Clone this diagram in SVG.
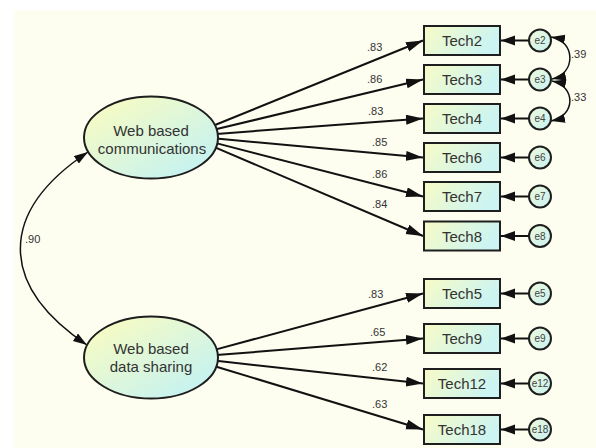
<svg xmlns="http://www.w3.org/2000/svg" width="596" height="448" viewBox="0 0 596 448">
<defs>
<linearGradient id="gb" x1="0" y1="0" x2="1" y2="0.3">
<stop offset="0" stop-color="#f8fbc6"/>
<stop offset="1" stop-color="#cbf4f2"/>
</linearGradient>
<linearGradient id="ge" x1="0.1" y1="0.1" x2="0.9" y2="0.9">
<stop offset="0" stop-color="#f7fbc3"/>
<stop offset="1" stop-color="#c4f2f2"/>
</linearGradient>
<linearGradient id="gc" x1="0" y1="0" x2="1" y2="1">
<stop offset="0" stop-color="#eefadc"/>
<stop offset="1" stop-color="#c8f1f0"/>
</linearGradient>
<marker id="ah" markerUnits="userSpaceOnUse" markerWidth="18" markerHeight="11" refX="17" refY="5" orient="auto">
<path d="M0,0 L17,5 L0,10 z" fill="#111"/>
</marker>
<marker id="as" markerUnits="userSpaceOnUse" markerWidth="15" markerHeight="11" refX="14" refY="5" orient="auto">
<path d="M0,0 L14,5 L0,10 z" fill="#111"/>
</marker>
<marker id="ac" markerUnits="userSpaceOnUse" markerWidth="15" markerHeight="10" refX="14" refY="4.5" orient="auto-start-reverse">
<path d="M0,0 L14,4.5 L0,9 z" fill="#111"/>
</marker>
</defs>
<style>
.box{fill:url(#gb);stroke:#1e1e1e;stroke-width:2}
.lat{fill:url(#ge);stroke:#1e1e1e;stroke-width:2}
.err{fill:url(#gc);stroke:#1e1e1e;stroke-width:2}
.t{font-family:"Liberation Sans",Arial,sans-serif;font-size:15px;fill:#333;text-anchor:middle}
.te{font-family:"Liberation Sans",Arial,sans-serif;font-size:10px;fill:#444;text-anchor:middle}
.lb{font-family:"Liberation Sans",Arial,sans-serif;font-size:11px;fill:#333}
.ld{stroke:#111;stroke-width:2;fill:none;marker-end:url(#ah)}
.ea{stroke:#111;stroke-width:2;fill:none;marker-end:url(#as)}
.cv{stroke:#111;stroke-width:1.5;fill:none;marker-start:url(#ac);marker-end:url(#ac)}
</style>
<rect x="14" y="10" width="582" height="438" fill="#fdfdf0"/>
<g id="connectors">
<path class="cv" d="M88,152 C-2,212 -2,285 87,345"/>
<line class="ld" x1="214.4" y1="125.3" x2="423" y2="40.5"/>
<line class="ld" x1="215.8" y1="129.3" x2="423" y2="79.5"/>
<line class="ld" x1="216.5" y1="133.9" x2="423" y2="118.5"/>
<line class="ld" x1="216.2" y1="138.6" x2="423" y2="157.5"/>
<line class="ld" x1="215.1" y1="142.9" x2="423" y2="196.5"/>
<line class="ld" x1="213.3" y1="146.7" x2="423" y2="236"/>
<line class="ld" x1="215.4" y1="349.6" x2="423" y2="293.5"/>
<line class="ld" x1="216.4" y1="355.1" x2="423" y2="338.5"/>
<line class="ld" x1="216.2" y1="360.8" x2="423" y2="383.5"/>
<line class="ld" x1="214.8" y1="366.2" x2="423" y2="429.5"/>
<line class="ea" x1="529" y1="40.5" x2="501" y2="40.5"/>
<line class="ea" x1="529" y1="79.5" x2="501" y2="79.5"/>
<line class="ea" x1="529" y1="118.5" x2="501" y2="118.5"/>
<line class="ea" x1="529" y1="157.5" x2="501" y2="157.5"/>
<line class="ea" x1="529" y1="196.5" x2="501" y2="196.5"/>
<line class="ea" x1="529" y1="236" x2="501" y2="236"/>
<line class="ea" x1="529" y1="293.5" x2="501" y2="293.5"/>
<line class="ea" x1="529" y1="338.5" x2="501" y2="338.5"/>
<line class="ea" x1="529" y1="383.5" x2="501" y2="383.5"/>
<line class="ea" x1="529" y1="429.5" x2="501" y2="429.5"/>
<path class="cv" d="M551,37 C576,41 576,74 552,79"/>
<path class="cv" d="M552,81 C576,86 576,116 551,121"/>
<text class="lb" x="367" y="51">.83</text>
<text class="lb" x="367" y="83">.86</text>
<text class="lb" x="368" y="115">.83</text>
<text class="lb" x="372" y="146">.85</text>
<text class="lb" x="372" y="178">.86</text>
<text class="lb" x="372" y="208">.84</text>
<text class="lb" x="368" y="298">.83</text>
<text class="lb" x="370" y="336">.65</text>
<text class="lb" x="372" y="371">.62</text>
<text class="lb" x="372" y="408">.63</text>
<text class="lb" x="25" y="243">.90</text>
<text class="lb" x="571" y="58">.39</text>
<text class="lb" x="571" y="101">.33</text>
</g>
<g id="f1"><ellipse class="lat" cx="151" cy="137.5" rx="67" ry="41"/><text class="t" x="151" y="136">Web based</text><text class="t" x="152" y="153.5">communications</text></g>
<g id="f2"><ellipse class="lat" cx="151" cy="357.5" rx="67" ry="41"/><text class="t" x="151" y="354">Web based</text><text class="t" x="151" y="372">data sharing</text></g>
<g id="tech2"><rect class="box" x="424" y="26" width="76" height="29"/><text class="t" x="462" y="46">Tech2</text></g>
<g id="tech3"><rect class="box" x="424" y="65" width="76" height="29"/><text class="t" x="462" y="85">Tech3</text></g>
<g id="tech4"><rect class="box" x="424" y="104" width="76" height="29"/><text class="t" x="462" y="124">Tech4</text></g>
<g id="tech6"><rect class="box" x="424" y="143" width="76" height="29"/><text class="t" x="462" y="163">Tech6</text></g>
<g id="tech7"><rect class="box" x="424" y="182" width="76" height="29"/><text class="t" x="462" y="202">Tech7</text></g>
<g id="tech8"><rect class="box" x="424" y="221.5" width="76" height="29"/><text class="t" x="462" y="241.5">Tech8</text></g>
<g id="tech5"><rect class="box" x="424" y="279" width="76" height="29"/><text class="t" x="462" y="299">Tech5</text></g>
<g id="tech9"><rect class="box" x="424" y="324" width="76" height="29"/><text class="t" x="462" y="344">Tech9</text></g>
<g id="tech12"><rect class="box" x="424" y="369" width="76" height="29"/><text class="t" x="462" y="389">Tech12</text></g>
<g id="tech18"><rect class="box" x="424" y="415" width="76" height="29"/><text class="t" x="462" y="435">Tech18</text></g>
<g id="e2"><circle class="err" cx="540" cy="40.5" r="11"/><text class="te" x="540" y="44">e2</text></g>
<g id="e3"><circle class="err" cx="540" cy="79.5" r="11"/><text class="te" x="540" y="83">e3</text></g>
<g id="e4"><circle class="err" cx="540" cy="118.5" r="11"/><text class="te" x="540" y="122">e4</text></g>
<g id="e6"><circle class="err" cx="540" cy="157.5" r="11"/><text class="te" x="540" y="161">e6</text></g>
<g id="e7"><circle class="err" cx="540" cy="196.5" r="11"/><text class="te" x="540" y="200">e7</text></g>
<g id="e8"><circle class="err" cx="540" cy="236" r="11"/><text class="te" x="540" y="239.5">e8</text></g>
<g id="e5"><circle class="err" cx="540" cy="293.5" r="11"/><text class="te" x="540" y="297">e5</text></g>
<g id="e9"><circle class="err" cx="540" cy="338.5" r="11"/><text class="te" x="540" y="342">e9</text></g>
<g id="e12"><circle class="err" cx="540" cy="383.5" r="11"/><text class="te" x="540" y="387">e12</text></g>
<g id="e18"><circle class="err" cx="540" cy="429.5" r="11"/><text class="te" x="540" y="433">e18</text></g>
</svg>
